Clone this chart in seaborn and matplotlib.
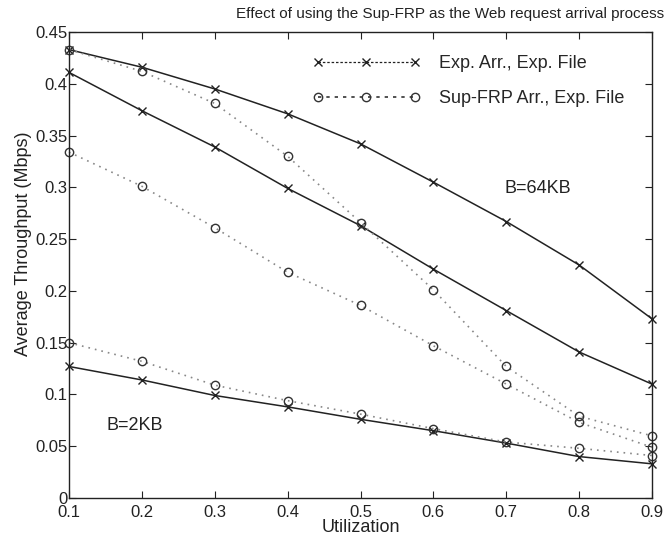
import matplotlib
matplotlib.use("Agg")
import matplotlib.pyplot as plt
import seaborn as sns
from matplotlib.lines import Line2D

utilization = [0.1, 0.2, 0.3, 0.4, 0.5, 0.6, 0.7, 0.8, 0.9]

exp_64kb = [0.433, 0.416, 0.395, 0.371, 0.342, 0.305, 0.267, 0.225, 0.173]
exp_mid = [0.411, 0.374, 0.339, 0.299, 0.263, 0.221, 0.181, 0.141, 0.110]
exp_2kb = [0.127, 0.114, 0.099, 0.088, 0.076, 0.065, 0.053, 0.040, 0.033]

sup_64kb = [0.433, 0.412, 0.381, 0.330, 0.266, 0.201, 0.127, 0.079, 0.060]
sup_mid = [0.334, 0.301, 0.261, 0.218, 0.186, 0.147, 0.110, 0.073, 0.049]
sup_2kb = [0.150, 0.132, 0.109, 0.094, 0.081, 0.067, 0.054, 0.048, 0.041]

x_ticks = [0.1, 0.2, 0.3, 0.4, 0.5, 0.6, 0.7, 0.8, 0.9]
y_ticks = [0, 0.05, 0.1, 0.15, 0.2, 0.25, 0.3, 0.35, 0.4, 0.45]
y_ticklabels = ["0", "0.05", "0.1", "0.15", "0.2", "0.25", "0.3", "0.35", "0.4", "0.45"]

sns.set_style("ticks")
plt.rcParams["font.family"] = ["Liberation Sans", "DejaVu Sans"]
plt.rcParams["font.size"] = 12

fig = plt.figure(figsize=(6.66, 5.4), dpi=100)
ax = fig.add_axes([69 / 666, 1 - 498 / 540, (652 - 69) / 666, (498 - 32) / 540])

ink = "#222222"
for vals in [exp_64kb, exp_mid, exp_2kb]:
    sns.lineplot(x=utilization, y=vals, ax=ax, color=ink, linewidth=1.1,
                 marker="x", markersize=6, markeredgewidth=1.0,
                 markeredgecolor=ink, linestyle="-", clip_on=False)
for vals in [sup_64kb, sup_mid, sup_2kb]:
    sns.lineplot(x=utilization, y=vals, ax=ax, color="#888888", linewidth=1.2,
                 marker="o", markersize=6, markerfacecolor="none",
                 markeredgecolor="#333333", markeredgewidth=1.0,
                 linestyle=(0, (1, 3)), clip_on=False)

ax.set_xlim(0.1, 0.9)
ax.set_ylim(0, 0.45)
ax.set_xticks(x_ticks)
ax.set_xticklabels([f"{t:g}" for t in x_ticks])
ax.set_yticks(y_ticks)
ax.set_yticklabels(y_ticklabels)
ax.tick_params(direction="in", top=True, right=True, length=5, width=0.8,
               labelsize=12, colors=ink)
ax.tick_params(axis="x", pad=5)
ax.tick_params(axis="y", pad=1)
for s in ax.spines.values():
    s.set_visible(True)
    s.set_color(ink)
    s.set_linewidth(1.0)

ax.set_xlabel("Utilization", fontsize=13, color=ink)
ax.xaxis.set_label_coords(0.5, -0.044)
ax.set_ylabel("Average Throughput (Mbps)", fontsize=13, color=ink)
ax.yaxis.set_label_coords(-0.064, 0.545)
fig.text(0.676, 0.974, "Effect of using the Sup-FRP as the Web request arrival process",
         ha="center", va="center", fontsize=11, color=ink)

ax.text(0.698, 0.299, "B=64KB", fontsize=13, color=ink, va="center")
ax.text(0.152, 0.070, "B=2KB", fontsize=13, color=ink, va="center")

handles = [
    Line2D([], [], color=ink, linestyle=(0, (2, 1.5)), linewidth=0.9, marker="x",
           markersize=6),
    Line2D([], [], color="#333333", linestyle=(0, (2, 3)), linewidth=1.2, marker="o",
           markersize=6, markerfacecolor="none"),
]
ax.legend(handles, ["Exp. Arr., Exp. File", "Sup-FRP Arr., Exp. File"], loc="upper right",
          frameon=False, numpoints=3, handlelength=6.0, fontsize=13, labelspacing=1.0,
          handletextpad=1.0, bbox_to_anchor=(0.98, 0.985))

fig.savefig("out.png", dpi=100)
